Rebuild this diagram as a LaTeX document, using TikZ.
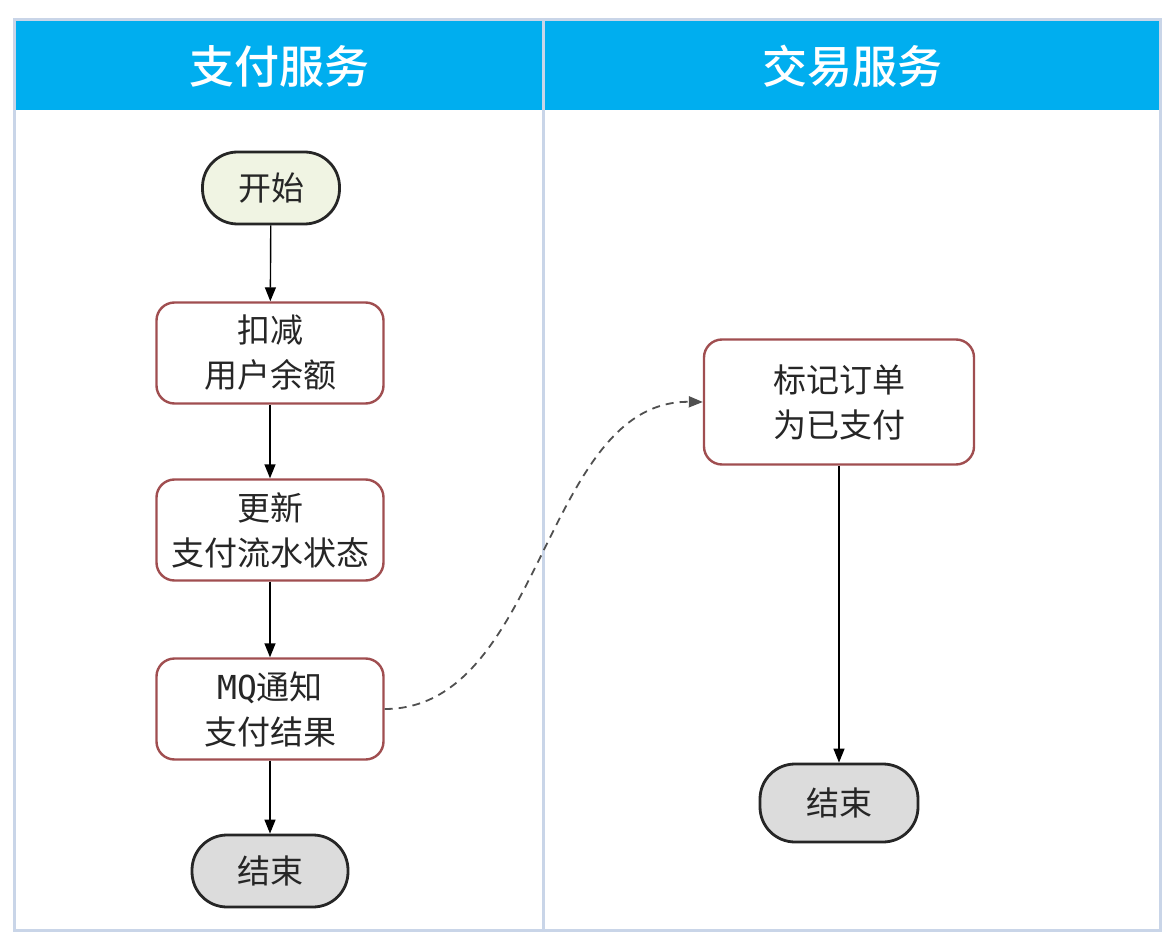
\documentclass[tikz,border=0pt]{standalone}
\usepackage{fontspec}
\setmainfont{Noto Sans CJK SC}
\newfontfamily\monof{DejaVu Sans Mono}
\newfontfamily\hdrf{Noto Sans CJK SC Medium}
\usetikzlibrary{arrows.meta}
\definecolor{hdrblue}{HTML}{00AEEF}
\definecolor{lanegray}{HTML}{C9D5E8}
\definecolor{boxred}{HTML}{A04E50}
\definecolor{startfill}{HTML}{F0F4E3}
\definecolor{endfill}{HTML}{DCDCDC}
\definecolor{dashgray}{HTML}{505050}
\tikzset{
  procbox/.style={draw=boxred, line width=2.4pt, fill=white, rounded corners=18pt,
    minimum width=227pt, minimum height=101pt, align=center,
    font=\fontsize{33}{45}\selectfont, text=black!85},
  termbox/.style={draw=black!85, line width=2.8pt, rounded corners=35pt,
    minimum height=72pt, align=center, font=\fontsize{33}{40}\selectfont, text=black!85},
  flow/.style={draw=black, line width=1.4pt, -{Triangle[length=14pt,width=11pt]}},
  hdrtext/.style={text=white, font=\hdrf\fontsize{45}{50}\selectfont}
}
\begin{document}
\begin{tikzpicture}[x=1pt,y=-1pt]
\useasboundingbox (0,0) rectangle (1169,949);
\fill[white] (0,0) rectangle (1169,949);
% lanes
\fill[hdrblue] (14,20) rectangle (1160,110);
\draw[lanegray, line width=3pt] (14,20) rectangle (1160,930);
\draw[lanegray, line width=3pt] (543,20) -- (543,930);
\node[hdrtext] (h1) at (279,66) {支付服务};
\node[hdrtext] (h2) at (852,66) {交易服务};
% left lane nodes
\node[termbox, fill=startfill, minimum width=137pt] (start) at (271,188) {开始};
\node[procbox] (deduct) at (270,353) {扣减\\用户余额};
\node[procbox] (update) at (270,530) {更新\\支付流水状态};
\node[procbox] (mq) at (270,709) {{\monof MQ}通知\\支付结果};
\node[termbox, fill=endfill, minimum width=156pt] (end1) at (270,871) {结束};
% right lane nodes
\node[procbox, minimum width=270pt, minimum height=125pt] (mark) at (839,402) {标记订单\\为已支付};
\node[termbox, fill=endfill, minimum width=158pt, minimum height=78pt] (end2) at (839,803) {结束};
% connectors
\draw[flow] (start) -- (deduct);
\draw[flow] (deduct) -- (update);
\draw[flow] (update) -- (mq);
\draw[flow] (mq) -- (end1);
\draw[flow] (mark) -- (end2);
\draw[dashgray, line width=1.8pt, dash pattern=on 8pt off 6pt, -{Triangle[length=14pt,width=11pt]}]
  (mq.east) .. controls (543,709) and (543,400) .. (mark.west);
\end{tikzpicture}
\end{document}
